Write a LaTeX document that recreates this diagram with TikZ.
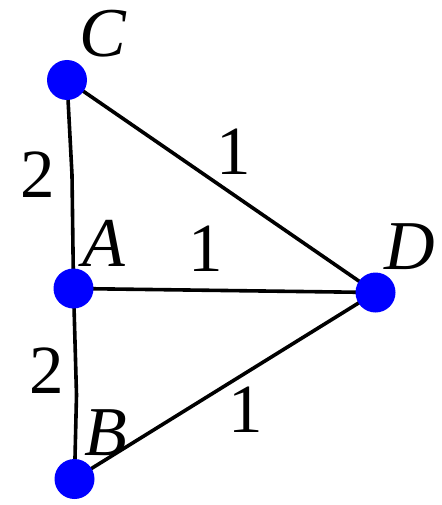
\documentclass[tikz,border=0pt]{standalone}
\usepackage{fontspec}
\setmainfont{Liberation Serif}
\begin{document}
\begin{tikzpicture}[x=1pt,y=-1pt,
  vtx/.style={circle,fill={rgb,255:red,0;green,0;blue,255},draw=none,minimum size=40pt,inner sep=0pt},
  edge/.style={line width=3.6pt,black},
  lbl/.style={font=\fontsize{70}{84}\selectfont\itshape,inner sep=0pt,anchor=center},
  num/.style={font=\fontsize{69}{82}\selectfont,inner sep=0pt,anchor=center}]
\useasboundingbox (0,0) rectangle (441,505);
\coordinate (C) at (67,80);
\coordinate (A) at (73.5,288.5);
\coordinate (B) at (74.5,479);
\coordinate (D) at (375.5,292.5);
\coordinate (ca) at (72,175);
\coordinate (ab) at (76.5,395);
\draw[edge] (C) -- (ca) -- (A);
\draw[edge] (A) -- (ab) -- (B);
\draw[edge] (C) -- (D);
\draw[edge] (A) -- (D);
\draw[edge] (B) -- (D);
\node[vtx] (nC) at (C) {};
\node[vtx] (nA) at (A) {};
\node[vtx] (nB) at (B) {};
\node[vtx] (nD) at (D) {};
\node[lbl] (lC) at (103,34) {C};
\node[lbl] (lA) at (104,243) {A};
\node[lbl] (lB) at (106,433) {B};
\node[lbl] (lD) at (410,247) {D};
\node[num] (w1) at (38,175) {2};
\node[num] (w2) at (47,371) {2};
\node[num] (w3) at (234,152) {1};
\node[num] (w4) at (206,249) {1};
\node[num] (w5) at (246,410) {1};
\end{tikzpicture}
\end{document}
